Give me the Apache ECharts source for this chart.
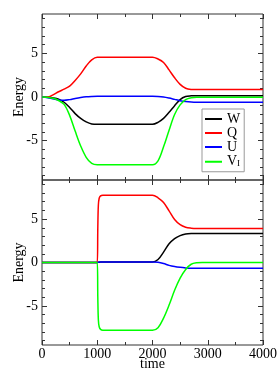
<!DOCTYPE html>
<html>
<head>
<meta charset="utf-8">
<script src="https://cdn.jsdelivr.net/npm/echarts@6/dist/echarts.min.js"></script>
<style>
html,body{margin:0;padding:0;background:#fff;}
#chart{width:277px;height:388px;}
</style>
</head>
<body>
<div id="chart"></div>
<script>
// ---- top panel data ----
const timeTop = [0,100,200,300,400,500,600,700,800,900,1000,2000,2100,2200,2300,2400,2500,2600,2700,2800,3000,4000];
const W_top = [0,-0.03,-0.1,-0.25,-0.6,-1.2,-1.9,-2.45,-2.85,-3.08,-3.12,-3.12,-2.9,-2.45,-1.75,-1.0,-0.3,0.05,0.13,0.15,0.15,0.15];
const Q_top = [0,0,0.25,0.6,0.9,1.25,1.9,2.65,3.55,4.25,4.55,4.55,4.35,3.95,3.1,2.2,1.45,1.0,0.87,0.85,0.85,0.85];
const U_top = [0,-0.08,-0.2,-0.33,-0.38,-0.3,-0.17,-0.06,0.02,0.06,0.08,0.08,0.06,0.0,-0.12,-0.27,-0.42,-0.52,-0.58,-0.6,-0.6,-0.6];
const V_top = [0,-0.02,-0.15,-0.4,-0.85,-2.1,-3.9,-5.6,-6.9,-7.6,-7.75,-7.75,-7.3,-5.7,-3.8,-2.0,-0.9,-0.3,-0.08,-0.03,-0.03,-0.03];

// ---- bottom panel data ----
const timeBot = [0,1000,1010,1020,1035,1060,1100,2000,2100,2200,2300,2400,2500,2600,2700,2800,2900,3000,4000];
const W_bot = [0,0,0,0.02,0.04,0.05,0.05,0.05,0.35,1.2,2.15,2.75,3.1,3.28,3.34,3.35,3.35,3.35,3.35];
const Q_bot = [0,0,4.0,6.6,7.4,7.68,7.75,7.75,7.45,6.9,5.95,4.95,4.35,4.05,3.95,3.92,3.92,3.92,3.92];
const U_bot = [0,0,0.02,0.04,0.05,0.05,0.05,0.05,0.02,-0.12,-0.33,-0.47,-0.56,-0.62,-0.65,-0.65,-0.65,-0.65,-0.65];
const V_bot = [0,0,-4.0,-6.6,-7.4,-7.7,-7.8,-7.8,-7.5,-6.4,-4.9,-3.2,-1.8,-0.8,-0.2,-0.03,0,0,0];

// ---- axes ticks ----
const yMajorTicks = [-5,0,5];
const yMinorTicks = [-9,-8,-7,-6,-4,-3,-2,-1,1,2,3,4,6,7,8,9];
const xTickLabels = [0,1000,2000,3000,4000];

const names = ['W','Q','U','V_I'];
const colors = ['#000000','#ff0000','#0000ff','#00ff00'];

const FONT = 'Liberation Serif';
const FRAME = '#333333';

function pairs(t, v){ return t.map((x,i)=>[x, v[i]]); }

function xAx(grid, pos, labels){
  return {
    type:'value', gridIndex:grid, position:pos, min:0, max:4000, interval:1000,
    axisLine:{show:false, onZero:false}, splitLine:{show:false},
    axisTick:{show:true, inside:true, length:5, lineStyle:{color:FRAME, width:1}},
    minorTick:{show:true, splitNumber:2, length:3, lineStyle:{color:FRAME, width:1}},
    axisLabel:{show:labels, margin:2, color:'#000', fontFamily:FONT, fontSize:14,
      formatter: v => String(v), hideOverlap:false},
    name: labels ? 'time' : '', nameLocation:'middle', nameGap:12, nameMoveOverlap:false,
    nameTextStyle:{color:'#000', fontFamily:FONT, fontSize:14}
  };
}
function yAx(grid, pos, ticks, len, labels){
  return {
    type:'value', gridIndex:grid, position:pos, min:-9.5, max:9.5,
    axisLine:{show:false, onZero:false}, splitLine:{show:false},
    axisTick:{show:true, inside:true, length:len, customValues:ticks, lineStyle:{color:FRAME, width:1}},
    axisLabel:{show:labels, margin:4, color:'#000', fontFamily:FONT, fontSize:14, customValues:ticks,
      formatter: v => String(v)},
    name: labels ? 'Energy' : '', nameLocation:'middle', nameGap:16, nameMoveOverlap:false,
    nameTextStyle:{color:'#000', fontFamily:FONT, fontSize:14}
  };
}

const topData = [W_top, Q_top, U_top, V_top];
const botData = [W_bot, Q_bot, U_bot, V_bot];
const series = [];
topData.forEach((d,i)=>series.push({
  name:names[i], type:'line', xAxisIndex:0, yAxisIndex:0, data:pairs(timeTop,d),
  smooth:0.35, symbol:'none', showSymbol:false,
  lineStyle:{color:colors[i], width:1.5}, itemStyle:{color:colors[i]}
}));
botData.forEach((d,i)=>series.push({
  name:names[i], type:'line', xAxisIndex:2, yAxisIndex:4, data:pairs(timeBot,d),
  smooth:0.35, symbol:'none', showSymbol:false,
  lineStyle:{color:colors[i], width:1.5}, itemStyle:{color:colors[i]}
}));

const chart = echarts.init(document.getElementById('chart'), null, {renderer:'canvas'});
chart.setOption({
  animation:false,
  backgroundColor:'#fff',
  grid:[
    {left:42, top:14, width:221, height:166, show:true, borderColor:FRAME, borderWidth:1, backgroundColor:'transparent', containLabel:false, outerBoundsMode:'none'},
    {left:42, top:180, width:221, height:165, show:true, borderColor:FRAME, borderWidth:1, backgroundColor:'transparent', containLabel:false, outerBoundsMode:'none'}
  ],
  xAxis:[ xAx(0,'bottom',false), xAx(0,'top',false), xAx(1,'bottom',true), xAx(1,'top',false) ],
  yAxis:[
    yAx(0,'left',yMajorTicks,5,true), yAx(0,'right',yMajorTicks,5,false),
    yAx(0,'left',yMinorTicks,3,false), yAx(0,'right',yMinorTicks,3,false),
    yAx(1,'left',yMajorTicks,5,true), yAx(1,'right',yMajorTicks,5,false),
    yAx(1,'left',yMinorTicks,3,false), yAx(1,'right',yMinorTicks,3,false)
  ],
  legend:{
    data:names, orient:'vertical', left:202, top:109,
    backgroundColor:'#fff', borderColor:'#999', borderWidth:1, borderRadius:0,
    padding:[3,4,3,3], itemGap:0, itemWidth:17, itemHeight:2, icon:'rect',
    textStyle:{color:'#000', fontFamily:FONT, fontSize:14, lineHeight:12.5,
      rich:{ v:{fontFamily:FONT, fontSize:14, color:'#000', lineHeight:12.5},
             s:{fontFamily:FONT, fontSize:9, color:'#000', verticalAlign:'bottom', lineHeight:12.5, padding:[5,0,0,0]} }},
    formatter: n => n === 'V_I' ? '{v|V}{s|I}' : n,
    selectedMode:false
  },
  series: series
});
</script>
</body>
</html>
